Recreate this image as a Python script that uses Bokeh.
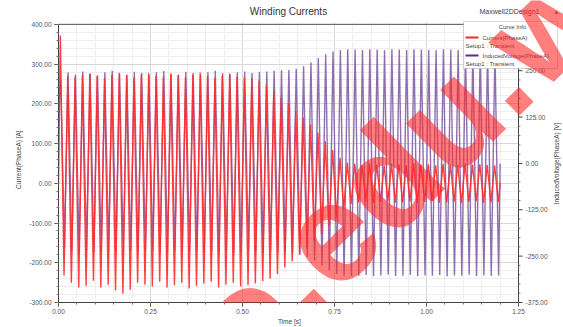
import math
import numpy as np
from bokeh.plotting import figure
from bokeh.models import (Range1d, SingleIntervalTicker, NumeralTickFormatter, Label, BoxAnnotation)
from bokeh.core.properties import value
from bokeh.embed import file_html
from bokeh.resources import INLINE

# ---------------- data ----------------
cycle_period = 0.02
n_cycles = 60
current_start = 0.0
current_peaks = [372,
                 270, 268, 272, 275, 270, 265, 273, 278, 271, 266, 274, 277, 270, 268, 276,
                 272, 267, 273, 279, 270, 265, 272, 276, 269, 266, 265, 258, 248,
                 232, 216, 200, 184, 166, 148, 128, 106, 84, 64, 52,
                 49, 46, 50, 47, 45, 49, 48, 46, 50, 47, 48, 45, 49, 47, 46, 50, 47, 48, 46, 45]
current_troughs = [-232,
                   -250, -262, -258, -245, -262, -255, -270, -278, -268, -250, -255, -260, -248, -262, -256,
                   -250, -265, -258, -252, -248, -262, -255, -250, -260, -256, -252, -246, -240,
                   -228, -212, -196, -180, -163, -146, -128, -108, -86, -66, -52,
                   -48, -46, -50, -47, -45, -49, -48, -46, -50, -47, -45, -49, -48, -46, -50, -47, -45, -49, -48, -47]
voltage_start = 150.0
voltage_peaks = [225,
                 245, 240, 248, 243, 238, 246, 250, 242, 240, 247, 244, 238, 246, 249, 241,
                 240, 247, 244, 239, 246, 250, 243, 240, 246, 248, 244, 247, 248,
                 250, 251, 252, 255, 262, 272, 284, 294, 302, 306, 308,
                 307, 306, 308, 307, 305, 308, 307, 306, 308, 307, 306, 305, 308, 307, 306, 305, 308, 307, 306, 307]
voltage_troughs = [-228,
                   -238, -242, -236, -240, -244, -237, -239, -243, -236, -241, -238, -235, -242, -240, -237,
                   -243, -239, -236, -241, -238, -242, -236, -240, -238, -235, -240, -242, -238,
                   -240, -241, -242, -245, -252, -262, -275, -288, -298, -303, -304,
                   -303, -301, -304, -302, -300, -304, -303, -301, -304, -302, -303, -301, -304, -302, -303,
                   -300, -304, -302, -303, -302]

x_tick_step = 0.25
left_tick_step = 100
right_tick_step = 125
x_axis_span = (0.0, 1.25)
left_axis_span = (-300, 400)
right_axis_span = (-375, 375)
right_ticks = [-375, -250, -125, 0, 125, 250, 375]
right_tick_labels = ["-375.00", "-250.00", "-125.00", "0.00", "125.00", "250.00", "375.00"]
right_minor_ticks = [v for v in range(-375, 376, 25) if v % 125 != 0]

# ---------------- layout constants (pixels) ----------------
W, H = 563, 327
border_left, border_bottom = 58, 23
frame_w, frame_h = W - border_left, H - border_bottom       # frame spans to the right/top edges
axes_w_px, axes_top_px = 460, 24                             # plotting box inside the frame
px_x = axes_w_px / (x_axis_span[1] - x_axis_span[0])
px_left = (frame_h - axes_top_px) / (left_axis_span[1] - left_axis_span[0])
px_right = (frame_h - axes_top_px) / (right_axis_span[1] - right_axis_span[0])


def build(start, peaks, troughs, t_peak, t_trough):
    xs, ys = [0.0], [start]
    for i in range(n_cycles):
        xs += [i * cycle_period + t_peak, i * cycle_period + t_trough]
        ys += [peaks[i], troughs[i]]
    xs.append(n_cycles * cycle_period)
    ys.append(0.0)
    return xs, ys


cx, cy = build(current_start, current_peaks, current_troughs, 0.005, 0.015)
vx, vy = build(voltage_start, voltage_peaks, voltage_troughs, 0.006, 0.016)

p = figure(width=W, height=H, output_backend="svg", toolbar_location=None, title=None,
           x_range=Range1d(x_axis_span[0], x_axis_span[0] + frame_w / px_x),
           y_range=Range1d(left_axis_span[0], left_axis_span[0] + frame_h / px_left),
           min_border_left=border_left, min_border_right=0, min_border_top=0,
           min_border_bottom=border_bottom)
p.extra_y_ranges = {"v": Range1d(right_axis_span[0], right_axis_span[0] + frame_h / px_right)}
p.outline_line_color = None
p.background_fill_color = "white"
p.border_fill_color = "white"

FONT = "Liberation Sans"
for ax in [p.xaxis[0], p.yaxis[0]]:
    ax.major_label_text_font = FONT
    ax.major_label_text_font_size = "6.5px"
    ax.major_label_text_color = "#555555"
    ax.axis_label_text_font = FONT
    ax.axis_label_text_font_size = "6.5px"
    ax.axis_label_text_font_style = "normal"
    ax.axis_label_text_color = "#444444"
    ax.axis_line_color = "#444444"
    ax.major_tick_line_color = "#444444"
    ax.minor_tick_line_color = "#777777"
    ax.major_tick_out = 4
    ax.major_tick_in = 0
    ax.minor_tick_out = 2
    ax.minor_tick_in = 0
    ax.formatter = NumeralTickFormatter(format="0.00")

xa, ya = p.xaxis[0], p.yaxis[0]
xa.ticker = SingleIntervalTicker(interval=x_tick_step, num_minor_ticks=5)
ya.ticker = SingleIntervalTicker(interval=left_tick_step, num_minor_ticks=5)
xa.bounds = x_axis_span
ya.bounds = left_axis_span
xa.axis_label = "Time [s]" + "\u00a0" * 24
ya.axis_label = "Current(PhaseA) [A]" + "\u00a0" * 9
xa.axis_label_standoff = 1
ya.axis_label_standoff = 4
xa.major_label_standoff = 2
ya.major_label_standoff = 3

for g in [p.xgrid[0], p.ygrid[0]]:
    g.grid_line_color = "#d6d6d6"
    g.grid_line_width = 1
    g.minor_grid_line_color = "#eeeeee"
    g.minor_grid_line_width = 1

# white cover over the parts of the frame outside the plotting box (hides grid lines there)
for box in [dict(left=axes_w_px, right=frame_w + 5, bottom=-5, top=frame_h + 5),
            dict(left=-5, right=frame_w + 5, bottom=frame_h - axes_top_px, top=frame_h + 5)]:
    p.add_layout(BoxAnnotation(**box, left_units="screen", right_units="screen",
                               top_units="screen", bottom_units="screen",
                               fill_color="white", fill_alpha=1.0, line_color=None, level="glyph"))

# data
p.line(vx, vy, y_range_name="v", line_color="#7d55a0", line_width=1.4, line_alpha=0.85)
p.line(cx, cy, line_color="#ff2a2a", line_width=1.4, line_alpha=0.9)

# top border of the plotting box
p.segment(x0=[x_axis_span[0]], y0=[left_axis_span[1]], x1=[x_axis_span[1]], y1=[left_axis_span[1]],
          line_color="#555555", line_width=1, level="annotation")

# right axis (voltage scale)
xr = x_axis_span[1]
p.segment(x0=[xr], y0=[right_axis_span[0]], x1=[xr], y1=[right_axis_span[1]], y_range_name="v",
          line_color="#444444", line_width=1, level="annotation")
p.ray(x=[xr] * len(right_ticks), y=right_ticks, length=4, length_units="screen", angle=0,
      y_range_name="v", line_color="#444444", line_width=1, level="annotation")
p.ray(x=[xr] * len(right_minor_ticks), y=right_minor_ticks, length=2, length_units="screen", angle=0,
      y_range_name="v", line_color="#777777", line_width=1, level="annotation")
p.text(x=[xr] * len(right_ticks), y=right_ticks, text=right_tick_labels, y_range_name="v",
       x_offset=7, text_font=value(FONT), text_font_size="6.5px", text_color="#555555",
       text_align="left", text_baseline="middle", level="annotation")
p.text(x=[xr], y=[0], text=["InducedVoltage(PhaseA) [V]"], y_range_name="v", angle=math.pi / 2,
       x_offset=38, text_font=value(FONT), text_font_size="6.5px", text_color="#444444",
       text_align="center", text_baseline="middle", level="annotation")


def lab(x, y, t, size="6px", align="left", color="#444444", level="overlay"):
    p.add_layout(Label(x=x, y=y, x_units="screen", y_units="screen", text=t,
                       text_font=FONT, text_font_size=size, text_color=color,
                       text_align=align, text_baseline="middle", level=level))


# title and design name (frame-relative screen coordinates)
lab(axes_w_px / 2, frame_h - 13, "Winding Currents", size="10px", align="center", color="#333333")
lab(421, frame_h - 13, "Maxwell2DDesign1", size="7px", color="#444444")
lab(495, frame_h - 13, "\u25b2", size="6px", color="#e03030")

# legend ("Curve Info")
p.add_layout(BoxAnnotation(left=405, right=499, top=frame_h - 23, bottom=frame_h - 70,
                           left_units="screen", right_units="screen",
                           top_units="screen", bottom_units="screen",
                           fill_color="white", fill_alpha=1.0,
                           line_color="#777777", line_width=1, level="overlay"))
p.add_layout(BoxAnnotation(left=407, right=420, top=frame_h - 38, bottom=frame_h - 40,
                           left_units="screen", right_units="screen",
                           top_units="screen", bottom_units="screen",
                           fill_color="#ff2a2a", fill_alpha=1.0, line_color=None, level="overlay"))
p.add_layout(BoxAnnotation(left=407, right=420, top=frame_h - 56, bottom=frame_h - 58,
                           left_units="screen", right_units="screen",
                           top_units="screen", bottom_units="screen",
                           fill_color="#5b2d7e", fill_alpha=1.0, line_color=None, level="overlay"))
lab(454, frame_h - 28, "Curve Info", align="center")
lab(424, frame_h - 39, "Current(PhaseA)")
lab(407, frame_h - 47, "Setup1 : Transient")
lab(424, frame_h - 57, "InducedVoltage(PhaseA)")
lab(407, frame_h - 65, "Setup1 : Transient")

# watermark
p.add_layout(Label(x=154, y=frame_h - 351, x_units="screen", y_units="screen", text="o.edu.w",
                   angle=0.777, text_font=FONT, text_font_size="140px",
                   text_font_style="bold", text_color="#ff2a2a", text_alpha=0.6,
                   text_baseline="alphabetic", text_align="left", level="overlay"))

open("out.html", "w").write(file_html(p, INLINE))
